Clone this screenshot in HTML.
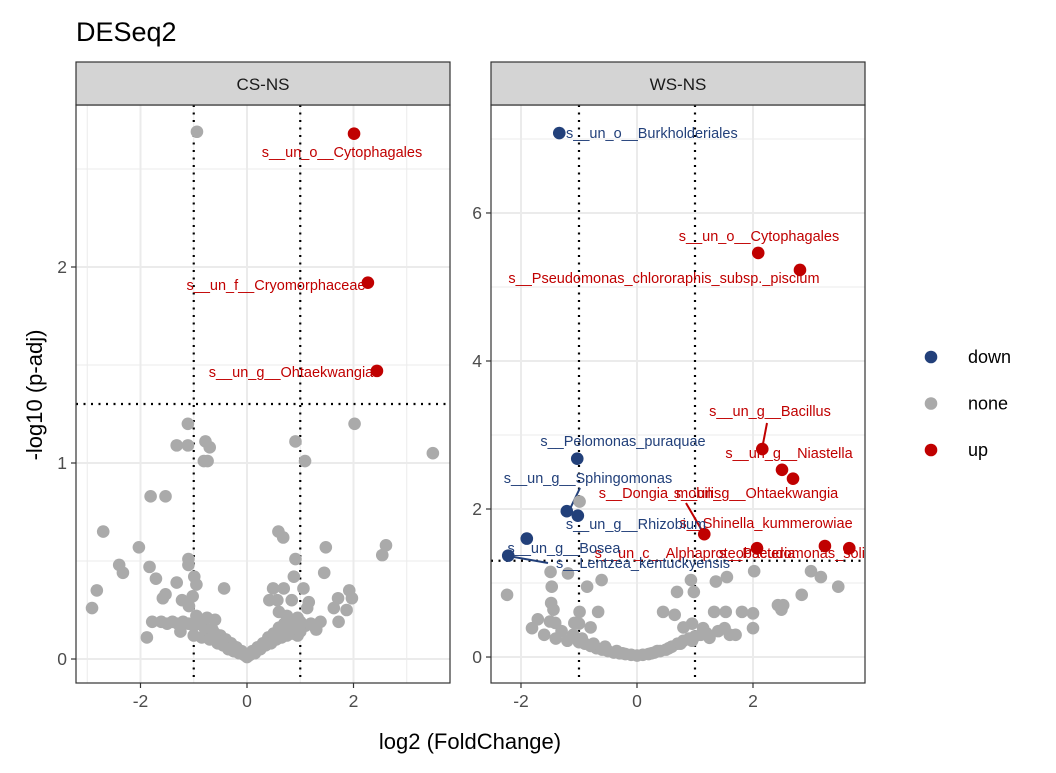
<!DOCTYPE html>
<html><head><meta charset="utf-8"><style>
body{margin:0;background:#fff;}
svg text{font-family:"Liberation Sans",Arial,sans-serif;}
</style></head><body>
<svg id="chart" width="1056" height="768" viewBox="0 0 1056 768" xmlns="http://www.w3.org/2000/svg">
<text x="76" y="41" font-size="27" fill="#000">DESeq2</text>
<text x="470" y="749" font-size="22" text-anchor="middle" fill="#000">log2 (FoldChange)</text>
<text transform="translate(42,395) rotate(-90)" font-size="22" text-anchor="middle" fill="#000">-log10 (p-adj)</text>
<g id="legend"></g>
</svg>
<script>
// ---- data ----
const leftGreyX=[-0.94,-1.11,-1.32,-1.11,-0.78,-0.70,-0.81,-0.74,0.91,1.09,2.02,3.49,-1.81,-1.53,-2.70,-2.03,-2.40,-2.33,-2.82,-2.91,-1.83,-1.71,-1.32,-1.53,-1.58,-1.22,-1.10,-1.10,-0.99,-0.95,-1.02,-1.09,-0.43,0.59,0.68,0.91,0.88,1.06,0.49,0.69,0.42,0.57,0.84,1.16,1.13,1.45,1.48,2.54,2.61,1.92,1.97,1.71,1.63,1.87,1.72,1.38,-1.78,-1.61,-1.88,
-1.5,-1.4,-1.3,-1.2,-1.1,-1.0,-0.9,-0.8,-0.7,-0.6,-0.5,-0.4,-0.3,-0.2,-0.1,0.0,0.1,0.2,0.3,0.4,0.5,0.6,0.7,0.8,0.9,1.0,1.1,1.2,1.3,-1.0,-0.85,-0.7,-0.55,-0.45,-0.35,-0.25,-0.15,0.15,0.25,0.35,0.45,0.55,0.65,0.75,0.85,0.95,-0.95,-0.75,-0.6,0.6,0.75,0.95,-1.25,-0.65,0.7,1.0,-0.05,0.05];
const leftGreyY=[2.69,1.20,1.09,1.09,1.11,1.08,1.01,1.01,1.11,1.01,1.20,1.05,0.83,0.83,0.65,0.57,0.48,0.44,0.35,0.26,0.47,0.41,0.39,0.33,0.31,0.30,0.51,0.48,0.42,0.38,0.32,0.27,0.36,0.65,0.62,0.51,0.42,0.36,0.36,0.36,0.30,0.30,0.30,0.29,0.26,0.44,0.57,0.53,0.58,0.35,0.31,0.31,0.26,0.25,0.19,0.19,0.19,0.19,0.11,
0.18,0.19,0.18,0.19,0.18,0.17,0.18,0.16,0.15,0.13,0.12,0.10,0.08,0.06,0.04,0.01,0.04,0.06,0.08,0.11,0.13,0.16,0.18,0.19,0.18,0.19,0.17,0.18,0.15,0.12,0.11,0.10,0.08,0.07,0.05,0.04,0.03,0.03,0.05,0.07,0.08,0.10,0.11,0.12,0.13,0.12,0.22,0.21,0.20,0.24,0.22,0.21,0.14,0.15,0.16,0.14,0.02,0.02];
const leftUpX=[2.01,2.27,2.44];
const leftUpY=[2.68,1.92,1.47];
const rightGreyX=[-0.99,-2.24,-1.49,-1.19,-1.47,-0.86,-0.61,-1.48,-1.44,-0.99,-0.67,-1.71,-1.81,-1.41,-1.08,0.93,0.98,0.69,1.36,1.55,2.02,3.00,3.17,3.47,2.84,2.43,2.52,2.49,1.33,1.53,1.81,2.00,0.45,0.65,1.14,1.51,2.00,
-1.6,-1.4,-1.2,-1.0,-0.9,-0.8,-0.7,-0.6,-0.5,-0.4,-0.3,-0.2,-0.1,0.0,0.1,0.2,0.3,0.4,0.5,0.6,0.7,0.8,0.9,1.0,1.1,1.2,1.4,1.6,-1.3,-1.1,-0.95,-0.75,-0.55,-0.35,0.35,0.55,0.75,0.95,1.25,-1.0,0.95,0.8,-0.8,1.7,-1.5,0.25,-0.25];
const rightGreyY=[2.10,0.84,1.15,1.13,0.95,0.95,1.04,0.73,0.64,0.61,0.61,0.51,0.39,0.46,0.46,1.04,0.88,0.88,1.02,1.08,1.16,1.16,1.08,0.95,0.84,0.70,0.70,0.64,0.61,0.61,0.61,0.59,0.61,0.57,0.39,0.39,0.39,
0.30,0.25,0.22,0.20,0.18,0.15,0.12,0.10,0.08,0.06,0.05,0.04,0.03,0.02,0.03,0.04,0.06,0.08,0.10,0.14,0.18,0.22,0.25,0.28,0.30,0.32,0.35,0.30,0.35,0.30,0.25,0.18,0.14,0.08,0.08,0.12,0.18,0.22,0.26,0.45,0.45,0.40,0.40,0.30,0.48,0.05,0.05];
const rightDownX=[-1.34,-1.03,-1.21,-1.02,-1.90,-2.22];
const rightDownY=[7.08,2.68,1.97,1.91,1.60,1.37];
const rightUpX=[2.09,2.81,2.16,2.50,2.69,1.16,2.07,3.24,3.66];
const rightUpY=[5.46,5.23,2.81,2.53,2.41,1.66,1.47,1.50,1.47];
const leftXTicks=[-2,0,2], leftYTicks=[0,1,2];
const rightXTicks=[-2,0,2], rightYTicks=[0,2,4,6];
const legendLabels=["down","none","up"];
// label layout (pixel positions, not data)
const leftLabels=[["s__un_o__Cytophagales",342,157],["s__un_f__Cryomorphaceae",276,290],["s__un_g__Ohtaekwangia",291,377]];
const rightLabelsUp=[["s__un_o__Cytophagales",759,241],["s__Pseudomonas_chlororaphis_subsp._piscium",664,283],["s__un_g__Bacillus",770,416],["s__un_g__Niastella",789,458],["s__un_g__Ohtaekwangia",756,498],["s__Dongia_mobilis",660,498],["s__Shinella_kummerowiae",766,528],["s__un_c__Alphaproteobacteria",695,558],["s__Pseudomonas_soli",792,558]];
const rightLabelsDown=[["s__Pelomonas_puraquae",623,446],["s__un_g__Sphingomonas",588,483],["s__un_g__Rhizobium",636,529],["s__un_g__Bosea",564,553],["s__Lentzea_kentuckyensis",643,568]];

const NS="http://www.w3.org/2000/svg";
const svg=document.getElementById('chart');
function mk(tag,attrs,parent){const e=document.createElementNS(NS,tag);for(const k in attrs)e.setAttribute(k,attrs[k]);(parent||svg).appendChild(e);return e;}
const GREY="#aaaaaa",BLUE="#22407a",RED="#c00000";
const LFS=14.5;

function panel(p){
  const sx=v=>p.x0+(v-p.xmin)/(p.xmax-p.xmin)*(p.x1-p.x0);
  const sy=v=>p.y1-(v-p.ymin)/(p.ymax-p.ymin)*(p.y1-p.y0);
  const g=mk('g',{});
  
  
  mk('rect',{x:p.x0,y:p.y0,width:p.x1-p.x0,height:p.y1-p.y0,fill:'#fff'},g);
  for(let v=Math.ceil(p.xmin*2)/2;v<=p.xmax;v+=1){if(Math.abs(v-Math.round(v/2)*2)===1)mk('line',{x1:sx(v),x2:sx(v),y1:p.y0,y2:p.y1,stroke:'#ebebeb','stroke-width':1},g);}
  for(const v of p.yminor){mk('line',{x1:p.x0,x2:p.x1,y1:sy(v),y2:sy(v),stroke:'#ebebeb','stroke-width':1},g);}
  for(const v of p.xt){const l=mk('line',{x1:sx(v),x2:sx(v),y1:p.y0,y2:p.y1,stroke:'#ebebeb','stroke-width':2},g);}
  for(const v of p.yt){const l=mk('line',{x1:p.x0,x2:p.x1,y1:sy(v),y2:sy(v),stroke:'#ebebeb','stroke-width':2},g);}
  for(const v of [-1,1]){const l=mk('line',{x1:sx(v),x2:sx(v),y1:p.y0,y2:p.y1,stroke:'#000','stroke-width':2.2,'stroke-dasharray':'2 5.5'},g);}
  const h=mk('line',{x1:p.x0,x2:p.x1,y1:sy(1.30103),y2:sy(1.30103),stroke:'#000','stroke-width':2.2,'stroke-dasharray':'2 5.5'},g);
  
  for(const s of p.segs){mk('line',{x1:s[0],y1:s[1],x2:s[2],y2:s[3],stroke:s[4],'stroke-width':2},g);}
  const pts=(xs,ys,c,nm)=>{for(let i=0;i<xs.length;i++){const el=mk('circle',{cx:sx(xs[i]),cy:sy(ys[i]),r:6.3,fill:c},g);}};
  pts(p.gx,p.gy,GREY,'point-none');
  if(p.dx)pts(p.dx,p.dy,BLUE,'point-down');
  pts(p.ux,p.uy,RED,'point-up');
  const lab=(arr,c,anchor)=>{for(const a of arr){const t=mk('text',{x:a[1],y:a[2],'font-size':LFS,fill:c,'text-anchor':a[3]||anchor},g);t.textContent=a[0];}};
  lab(p.labUp,RED,'middle');
  if(p.labDown)lab(p.labDown,BLUE,'middle');
  mk('rect',{x:p.x0,y:p.y0,width:p.x1-p.x0,height:p.y1-p.y0,fill:'none',stroke:'#333','stroke-width':1.2},g);
  const st=mk('rect',{x:p.x0,y:62,width:p.x1-p.x0,height:p.y0-62,fill:'#d4d4d4',stroke:'#333','stroke-width':1.2},g);
  
  const stt=mk('text',{x:(p.x0+p.x1)/2,y:90,'font-size':17,'text-anchor':'middle',fill:'#1a1a1a'},g);stt.textContent=p.title;
  
  for(const v of p.xt){mk('line',{x1:sx(v),x2:sx(v),y1:p.y1,y2:p.y1+5,stroke:'#333','stroke-width':1.2},g);
    const t=mk('text',{x:sx(v),y:p.y1+24,'font-size':17.5,'text-anchor':'middle',fill:'#4d4d4d'},g);t.textContent=v;
    }
  for(const v of p.yt){mk('line',{x1:p.x0-5,x2:p.x0,y1:sy(v),y2:sy(v),stroke:'#333','stroke-width':1.2},g);
    const t=mk('text',{x:p.x0-9,y:sy(v)+6,'font-size':17.5,'text-anchor':'end',fill:'#4d4d4d'},g);t.textContent=v;
    }
}
panel({name:'cs-ns',title:'CS-NS',x0:76,x1:450,y0:105,y1:683,xmin:-3.211,xmax:3.812,ymin:-0.1224,ymax:2.8265,
  xt:leftXTicks,yt:leftYTicks,yminor:[0.5,1.5,2.5],gx:leftGreyX,gy:leftGreyY,ux:leftUpX,uy:leftUpY,labUp:leftLabels,segs:[]});
panel({name:'ws-ns',title:'WS-NS',x0:491,x1:865,y0:105,y1:683,xmin:-2.517,xmax:3.931,ymin:-0.351,ymax:7.459,
  xt:rightXTicks,yt:rightYTicks,yminor:[1,3,5,7],gx:rightGreyX,gy:rightGreyY,dx:rightDownX,dy:rightDownY,ux:rightUpX,uy:rightUpY,
  labUp:rightLabelsUp,labDown:rightLabelsDown,
  segs:[[767,423,762,449,RED],[686,503,704,534,RED],[580,488,569,511,BLUE],[508,556,548,563,BLUE]]});
{const t=mk('text',{x:566,y:138,'font-size':LFS,fill:BLUE});t.textContent='s__un_o__Burkholderiales';
}
const lg=document.getElementById('legend');
const lc=[BLUE,GREY,RED];
for(let i=0;i<legendLabels.length;i++){
  const y=357+i*46.5;
  const c=mk('circle',{cx:931,cy:y,r:6.3,fill:lc[i]},lg);
  
  const t=mk('text',{x:968,y:y+6,'font-size':18,fill:'#000'},lg);t.textContent=legendLabels[i];
  
}
</script>
</body></html>
